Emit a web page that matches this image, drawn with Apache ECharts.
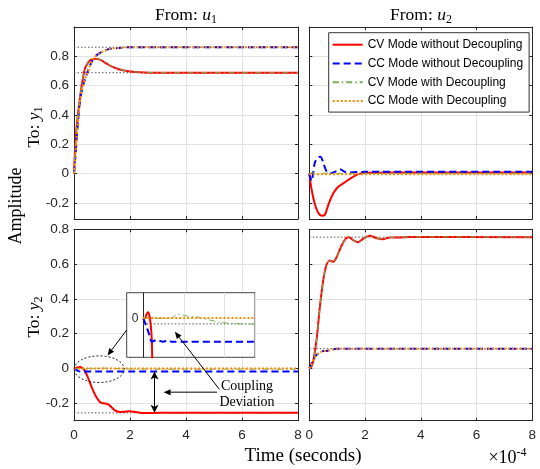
<!DOCTYPE html>
<html><head><meta charset="utf-8">
<script src="https://cdn.jsdelivr.net/npm/echarts@6/dist/echarts.min.js"></script>
<style>html,body{margin:0;padding:0;background:#fff}#c{width:540px;height:469px}</style>
</head><body><div id="c"></div>
<script>
// ---------------- data (time in units of 1e-4 s) ----------------
const seriesNames = ['CV Mode without Decoupling', 'CC Mode without Decoupling', 'CV Mode with Decoupling', 'CC Mode with Decoupling'];
const xTickLabels = [0, 2, 4, 6, 8];
const yTickLabels = [-0.2, 0, 0.2, 0.4, 0.6, 0.8];

// From u1 To y1
const u1y1_cvNoDec = [[0,0],[0.04,0.165],[0.1,0.33],[0.21,0.51],[0.3,0.63],[0.39,0.715],[0.5,0.755],[0.6,0.775],[0.77,0.784],[0.9,0.779],[1.0,0.77],[1.15,0.752],[1.3,0.735],[1.6,0.712],[2.0,0.697],[2.5,0.69],[3.0,0.688],[8,0.688]];
const u1y1_ccNoDec = [[0,0],[0.05,0.12],[0.1,0.25],[0.21,0.49],[0.3,0.585],[0.48,0.69],[0.69,0.785],[0.87,0.817],[1.05,0.835],[1.29,0.851],[1.6,0.857],[2,0.862],[8,0.862]];
const u1y1_cvDec = u1y1_cvNoDec;   // curves coincide on the diagonal
const u1y1_ccDec = u1y1_ccNoDec;
const u1y1_steady = [0.862, 0.688];

// From u2 To y1
const u2y1_cvNoDec = [[0,0],[0.08,-0.107],[0.2,-0.21],[0.32,-0.268],[0.44,-0.288],[0.56,-0.28],[0.68,-0.215],[0.86,-0.135],[1.04,-0.09],[1.27,-0.06],[1.51,-0.03],[1.75,-0.004],[2.05,0.005],[3,0.007],[8,0.007]];
const u2y1_ccNoDec = [[0,0],[0.08,-0.05],[0.2,0.075],[0.32,0.11],[0.4,0.115],[0.5,0.075],[0.58,0.03],[0.66,0.006],[0.74,0.0],[0.92,0.012],[1.1,0.03],[1.27,0.012],[1.45,0.008],[2,0.012],[8,0.012]];
const u2y1_cvDec = [[0,0],[0.15,0.006],[0.35,-0.004],[0.6,0.004],[0.9,0.0],[1.3,0.002],[8,0.002]];
const u2y1_ccDec = [[0,0],[0.05,-0.004],[8,-0.004]];

// From u1 To y2
const u1y2_cvNoDec = [[0,0],[0.1,0.005],[0.2,0.008],[0.3,0.002],[0.39,-0.015],[0.48,-0.045],[0.57,-0.082],[0.66,-0.118],[0.75,-0.149],[0.84,-0.175],[0.93,-0.193],[1.05,-0.2],[1.17,-0.203],[1.27,-0.212],[1.35,-0.225],[1.44,-0.238],[1.52,-0.246],[1.64,-0.25],[1.8,-0.248],[2.0,-0.245],[2.2,-0.25],[2.36,-0.254],[2.6,-0.256],[3,-0.255],[8,-0.255]];
const u1y2_ccNoDec = [[0,0],[0.08,-0.008],[0.16,-0.015],[0.25,-0.017],[8,-0.017]];
const u1y2_cvDec = [[0,0],[0.6,0.001],[1.0,0.002],[1.5,0],[2.0,-0.003],[3,-0.004],[8,-0.004]];
const u1y2_ccDec = [[0,0],[8,0]];
const u1y2_steady = [-0.255];
const u1y2_deviation = [-0.017, -0.255];   // coupling deviation arrow (at t = 2.875)

// From u2 To y2
const u2y2_cvNoDec = [[0,0],[0.08,0.012],[0.14,0.04],[0.26,0.164],[0.38,0.355],[0.5,0.507],[0.62,0.598],[0.74,0.62],[0.86,0.613],[0.98,0.64],[1.16,0.707],[1.3,0.745],[1.42,0.755],[1.57,0.738],[1.75,0.726],[1.93,0.745],[2.17,0.763],[2.4,0.75],[2.64,0.743],[2.88,0.753],[3.2,0.753],[3.6,0.756],[8,0.755]];
const u2y2_ccNoDec = [[0,0],[0.14,0.05],[0.26,0.078],[0.38,0.092],[0.5,0.1],[0.62,0.101],[0.8,0.107],[0.98,0.114],[8,0.114]];
const u2y2_cvDec = u2y2_cvNoDec;
const u2y2_ccDec = u2y2_ccNoDec;
const u2y2_steady = [0.755, 0.114];

// zoomed inset of From u1 To y2 (inset time units)
const inset_cvNoDec = [[0,0],[0.04,0.0],[0.08,0.003],[0.12,0.0043],[0.15,0.002],[0.18,-0.0036],[0.21,-0.0156],[0.22,-0.028],[0.24,-0.045]];
const inset_ccNoDec = [[0,0],[0.08,-0.006],[0.15,-0.012],[0.21,-0.0168],[0.33,-0.0156],[0.49,-0.0168],[0.62,-0.0158],[0.7,-0.0168],[2.76,-0.0168]];
const inset_cvDec = [[0,0],[0.66,0],[0.86,0.0029],[1.07,0.0017],[1.32,0.001],[1.57,-0.0007],[1.9,-0.0029],[2.3,-0.0039],[2.76,-0.0043]];
const inset_ccDec = [[0,0.0003],[2.76,0.0003]];
const inset_steady = [-0.004];
const inset_deviation = [0, -0.0168];   // at inset t = 0.64

// ---------------- styling ----------------
const SERIF = '"Liberation Serif", "Times New Roman", serif';
const SANS = '"Liberation Sans", Arial, sans-serif';
const AX = '#262626', GRIDC = '#e2e2e2';
const lineStyles = [
  {color: '#ff0000', width: 2, type: 'solid'},
  {color: '#0000ff', width: 2, type: [7, 4]},
  {color: '#77b050', width: 1, type: [6, 3, 1.5, 3]},
  {color: '#ff8c00', width: 2, type: [2, 2]}
];

const grids = [
  {left: 74, top: 27, width: 224, height: 192},
  {left: 309.3, top: 27, width: 223, height: 192},
  {left: 74, top: 229.3, width: 224, height: 191.4},
  {left: 309.3, top: 229.3, width: 223, height: 191.4},
  {left: 143.3, top: 292.7, width: 111.7, height: 64.6}
];
const yRanges = [[-0.31, 1.0], [-0.31, 1.0], [-0.3, 0.8], [-0.3, 0.8]];

const xAxes = [], yAxes = [];
for (let g = 0; g < 4; g++) {
  xAxes.push({gridIndex: g, type: 'value', min: 0, max: 8,
    axisLine: {show: true, onZero: false, lineStyle: {color: AX, width: 1}},
    axisTick: {show: true, inside: true, length: 3, customValues: [2, 4, 6], lineStyle: {color: AX}},
    axisLabel: {show: g >= 2, customValues: xTickLabels, color: AX, fontFamily: SANS, fontSize: 13.5, margin: 8},
    splitLine: {show: true, lineStyle: {color: GRIDC, width: 1}}});
  const ticks = yTickLabels.filter(v => v > yRanges[g][0] && v < yRanges[g][1]);
  yAxes.push({gridIndex: g, type: 'value', min: yRanges[g][0], max: yRanges[g][1], position: 'left',
    axisLine: {show: true, onZero: false, lineStyle: {color: AX, width: 1}},
    axisTick: {show: true, inside: true, length: 3, customValues: ticks, lineStyle: {color: AX}},
    axisLabel: {show: g % 2 === 0, customValues: yTickLabels, color: AX, fontFamily: SANS, fontSize: 13.5, margin: 5,
      formatter: v => (Math.abs(v) < 1e-9 ? '0' : String(Math.round(v * 10) / 10))},
    splitLine: {show: true, lineStyle: {color: GRIDC, width: 1}}});
}
// inset axes
xAxes.push({gridIndex: 4, type: 'value', min: 0, max: 2.76, interval: 1, z: 6,
  axisLine: {show: false}, axisTick: {show: false}, axisLabel: {show: false},
  splitLine: {show: true, lineStyle: {color: GRIDC, width: 1}}});
yAxes.push({gridIndex: 4, type: 'value', min: -0.028, max: 0.0184, z: 6,
  axisLine: {show: true, onZero: false, lineStyle: {color: AX, width: 1}},
  axisTick: {show: true, inside: true, length: 3, customValues: [0], lineStyle: {color: AX}},
  axisLabel: {show: true, customValues: [0], color: AX, fontFamily: SANS, fontSize: 12, margin: 5, formatter: () => '0'},
  splitLine: {show: false}});
// mirrored box axes (top / right)
for (let g = 0; g < 4; g++) {
  const ticks = yTickLabels.filter(v => v > yRanges[g][0] && v < yRanges[g][1]);
  xAxes.push({gridIndex: g, type: 'value', min: 0, max: 8, position: 'top',
    axisLine: {show: true, onZero: false, lineStyle: {color: AX, width: 1}},
    axisTick: {show: true, inside: true, length: 3, customValues: [2, 4, 6], lineStyle: {color: AX}},
    axisLabel: {show: false}, splitLine: {show: false}});
  yAxes.push({gridIndex: g, type: 'value', min: yRanges[g][0], max: yRanges[g][1], position: 'right',
    axisLine: {show: true, onZero: false, lineStyle: {color: AX, width: 1}},
    axisTick: {show: true, inside: true, length: 3, customValues: ticks, lineStyle: {color: AX}},
    axisLabel: {show: false}, splitLine: {show: false}});
}

const series = [];
function addLine(name, data, idx, styleIdx, extra) {
  series.push(Object.assign({
    type: 'line', name: name, data: data, xAxisIndex: idx, yAxisIndex: idx,
    showSymbol: false, symbol: 'none', smooth: 0.3, animation: false, silent: true,
    lineStyle: Object.assign({}, lineStyles[styleIdx]), itemStyle: {color: lineStyles[styleIdx].color},
    z: idx === 4 ? 7 : 2
  }, extra || {}));
}
function addSteady(value, idx, tMax, extra) {
  series.push(Object.assign({
    type: 'line', name: 'steady', data: [[0, value], [tMax, value]], xAxisIndex: idx, yAxisIndex: idx,
    showSymbol: false, symbol: 'none', animation: false, silent: true,
    lineStyle: {color: '#555', width: 1, type: [1.5, 2]}, z: idx === 4 ? 7 : 1
  }, extra || {}));
}
function devMark(t, vals) {
  return {markLine: {silent: true, animation: false, symbol: ['arrow', 'arrow'], symbolSize: [6, 8],
    lineStyle: {color: '#000', width: 1, type: 'solid'}, label: {show: false}, emphasis: {disabled: true},
    data: [[{coord: [t, vals[0]]}, {coord: [t, vals[1]]}]]}};
}

const panels = [
  [u1y1_cvNoDec, u1y1_ccNoDec, u1y1_cvDec, u1y1_ccDec],
  [u2y1_cvNoDec, u2y1_ccNoDec, u2y1_cvDec, u2y1_ccDec],
  [u1y2_cvNoDec, u1y2_ccNoDec, u1y2_cvDec, u1y2_ccDec],
  [u2y2_cvNoDec, u2y2_ccNoDec, u2y2_cvDec, u2y2_ccDec],
  [inset_cvNoDec, inset_ccNoDec, inset_cvDec, inset_ccDec]
];
u1y1_steady.forEach(v => addSteady(v, 0, 8));
u1y2_steady.forEach(v => addSteady(v, 2, 8, devMark(2.875, u1y2_deviation)));
u2y2_steady.forEach(v => addSteady(v, 3, 8));
inset_steady.forEach(v => addSteady(v, 4, 2.76, devMark(0.64, inset_deviation)));
panels.forEach((p, idx) => p.forEach((d, s) => addLine(seriesNames[s], d, idx, s)));

const option = {
  animation: false,
  backgroundColor: '#fff',
  grid: grids.map(g => Object.assign({outerBoundsMode: 'none', containLabel: false}, g)),
  xAxis: xAxes, yAxis: yAxes,
  legend: {
    data: seriesNames, orient: 'vertical', left: 328.7, top: 32.7, selectedMode: false,
    itemWidth: 30, itemHeight: 12, itemGap: 6.8, padding: [6, 6, 5, 3],
    itemStyle: {opacity: 0, borderWidth: 0},
    backgroundColor: '#fff', borderColor: '#333', borderWidth: 1,
    textStyle: {fontFamily: SANS, fontSize: 12, color: '#000', lineHeight: 12}
  },
  series: series
};

const chart = echarts.init(document.getElementById('c'), null, {renderer: 'canvas'});
chart.setOption(option);

// ---------------- annotations ----------------
function px(idx, pt) { return chart.convertToPixel({xAxisIndex: idx, yAxisIndex: idx}, pt); }
function arrow(x1, y1, x2, y2) {
  const a = Math.atan2(y2 - y1, x2 - x1), L = 7, W = 3;
  const bx = x2 - L * Math.cos(a), by = y2 - L * Math.sin(a);
  return [
    {type: 'line', z: 12, shape: {x1: x1, y1: y1, x2: bx, y2: by}, style: {stroke: '#000', lineWidth: 1}},
    {type: 'polygon', z: 12, shape: {points: [[x2, y2], [bx + W * Math.sin(a), by - W * Math.cos(a)], [bx - W * Math.sin(a), by + W * Math.cos(a)]]}, style: {fill: '#000'}}
  ];
}
const ell = px(2, [0.9, -0.004]);
const headMain = px(2, [3.2, -0.136]);
const headInset = px(4, [0.78, -0.0096]);
const g4 = grids[4];
const insetBox = {x: 126.7, y: g4.top, w: g4.left + g4.width - 126.7, h: g4.height};

function richLabel(x, y, main, it, sub, rot, size) {
  return {type: 'text', x: x, y: y, rotation: rot || 0, z: 12, style: {
    text: '{a|' + main + '}{i|' + it + '}{s|' + sub + '}', align: 'center', verticalAlign: 'middle',
    rich: {
      a: {fontFamily: SERIF, fontSize: size, lineHeight: 22, fill: '#000'},
      i: {fontFamily: SERIF, fontSize: size, fontStyle: 'italic', lineHeight: 22, fill: '#000'},
      s: {fontFamily: SERIF, fontSize: 12, lineHeight: 12, verticalAlign: 'bottom', fill: '#000'}
    }}};
}

const graphics = [
  {type: 'rect', z: 5, shape: {x: insetBox.x, y: insetBox.y, width: insetBox.w, height: insetBox.h},
    style: {fill: '#fff', stroke: '#444', lineWidth: 1}},
  {type: 'ellipse', z: 12, shape: {cx: ell[0], cy: ell[1], rx: 25, ry: 13.3},
    style: {fill: 'none', stroke: '#222', lineWidth: 1, lineDash: [2, 2]}},
  ...arrow(insetBox.x, 330, 107.5, 355.5),
  ...arrow(217, headMain[1], headMain[0], headMain[1]),
  ...arrow(219.5, 389.5, headInset[0], headInset[1]),
  {type: 'text', x: 247, y: 394.7, z: 12, style: {text: 'Coupling\nDeviation', align: 'center', verticalAlign: 'middle',
    fontFamily: SERIF, fontSize: 14, lineHeight: 16, fill: '#000'}},
  richLabel(186, 15, 'From: ', 'u', '1', 0, 17.5),
  richLabel(421, 15, 'From: ', 'u', '2', 0, 17.5),
  richLabel(34, 127, 'To: ', 'y', '1', Math.PI / 2, 17.5),
  richLabel(34, 317, 'To: ', 'y', '2', Math.PI / 2, 17.5),
  {type: 'text', x: 16, y: 206, rotation: Math.PI / 2, z: 12, style: {text: 'Amplitude', align: 'center', verticalAlign: 'middle',
    fontFamily: SERIF, fontSize: 18, fill: '#000'}},
  {type: 'text', x: 303, y: 456.5, z: 12, style: {text: 'Time (seconds)', align: 'center', verticalAlign: 'middle',
    fontFamily: SERIF, fontSize: 19, fill: '#000'}},
  {type: 'text', x: 507.5, y: 458, z: 12, style: {text: '{a|×10}{s|-4}', align: 'center', verticalAlign: 'middle',
    rich: {a: {fontFamily: SERIF, fontSize: 18, lineHeight: 22, fill: '#000'},
           s: {fontFamily: SERIF, fontSize: 12, lineHeight: 12, verticalAlign: 'top', fill: '#000'}}}}
];
chart.setOption({graphic: graphics});
</script></body></html>
